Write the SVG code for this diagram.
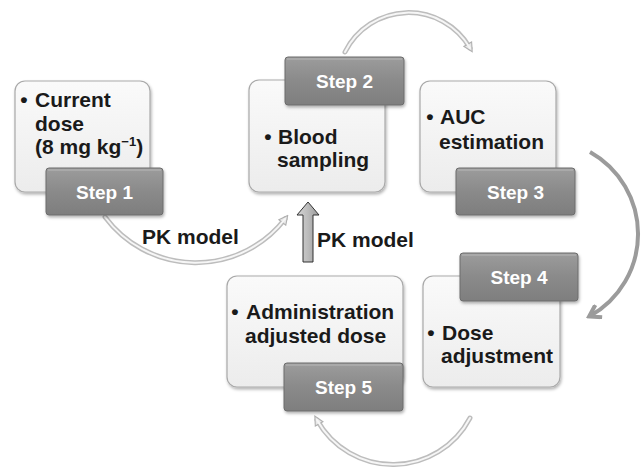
<svg xmlns="http://www.w3.org/2000/svg" width="641" height="469" viewBox="0 0 641 469">
<style>
.card{fill:url(#cardG);stroke:#a9a9a9;stroke-width:1.2}
.lab{fill:url(#labG);stroke:#6c6c6c;stroke-width:1}
.hl{fill:none;stroke:#b8b8b8;stroke-width:1.2}
.txt{font-family:"Liberation Sans",Arial,sans-serif;font-weight:bold;font-size:21px;fill:#1a1a1a}
.st{font-family:"Liberation Sans",Arial,sans-serif;font-weight:bold;font-size:19px;fill:#ffffff;text-anchor:middle}
.tubeO{fill:none;stroke:#bdbdbd;stroke-width:5;stroke-linecap:round}
.tubeI{fill:none;stroke:#f6f6f6;stroke-width:2;stroke-linecap:round}
</style>
<defs>
<linearGradient id="cardG" x1="0" y1="0" x2="0" y2="1">
<stop offset="0" stop-color="#fafafa"/>
<stop offset="1" stop-color="#ececec"/>
</linearGradient>
<linearGradient id="labG" x1="0" y1="0" x2="0" y2="1">
<stop offset="0" stop-color="#9c9c9c"/>
<stop offset="0.5" stop-color="#8a8a8a"/>
<stop offset="1" stop-color="#7e7e7e"/>
</linearGradient>
<linearGradient id="arrG" x1="0" y1="0" x2="1" y2="0">
<stop offset="0" stop-color="#d6d6d6"/>
<stop offset="0.5" stop-color="#bcbcbc"/>
<stop offset="1" stop-color="#9a9a9a"/>
</linearGradient>
<filter id="sh" x="-10%" y="-10%" width="125%" height="130%">
<feDropShadow dx="1" dy="2" stdDeviation="1.6" flood-color="#000" flood-opacity="0.3"/>
</filter>
<marker id="mLight" viewBox="0 0 10 10" refX="5" refY="5" markerWidth="11" markerHeight="11" markerUnits="userSpaceOnUse" orient="auto">
<path d="M1,1 L9,5 L1,9 Z" fill="#e8e8e8" stroke="#b0b0b0" stroke-width="1"/>
</marker>
<marker id="mDark" viewBox="0 0 16 16" refX="12" refY="8" markerWidth="16" markerHeight="16" markerUnits="userSpaceOnUse" orient="auto">
<path d="M2,1 L13,8 L2,15" fill="none" stroke="#9b9b9b" stroke-width="4"/>
</marker>
</defs>

<g id="connectors">
<path class="tubeO" d="M105,217 A113,113 0 0 0 285,219" marker-end="url(#mLight)"/>
<path class="tubeI" d="M105,217 A113,113 0 0 0 285,219"/>
<path class="tubeO" d="M345,52 A71,71 0 0 1 470,48" marker-end="url(#mLight)"/>
<path class="tubeI" d="M345,52 A71,71 0 0 1 470,48"/>
<path d="M590,152 A94,94 0 0 1 590,316" fill="none" stroke="#9b9b9b" stroke-width="4" marker-end="url(#mDark)"/>
<path class="tubeO" d="M470,418 A87,87 0 0 1 317,420" marker-end="url(#mLight)"/>
<path class="tubeI" d="M470,418 A87,87 0 0 1 317,420"/>
<path d="M308,202 L319,215 L313,215 L313,262 L303,262 L303,215 L297,215 Z" fill="url(#arrG)" stroke="#333" stroke-width="1"/>
<text class="txt" x="142" y="244">PK model</text>
<text class="txt" x="317" y="247">PK model</text>
</g>

<g id="step1">
<rect class="card" x="15" y="81" width="135" height="111" rx="10" filter="url(#sh)"/>
<text class="txt" x="24" y="107" text-anchor="middle">•</text>
<text class="txt" x="35" y="107">Current</text>
<text class="txt" x="35" y="131">dose</text>
<text class="txt" x="35" y="154">(8 mg kg<tspan dy="-8" font-size="13">−1</tspan><tspan dy="8">)</tspan></text>
<rect class="lab" x="46" y="168" width="117" height="47" rx="3" filter="url(#sh)"/>
<path class="hl" d="M48,170 L161,170"/>
<text class="st" x="104.5" y="199">Step 1</text>
</g>

<g id="step2">
<rect class="card" x="249" y="80" width="136" height="112" rx="10" filter="url(#sh)"/>
<rect class="lab" x="285" y="57" width="119" height="48" rx="3" filter="url(#sh)"/>
<path class="hl" d="M287,59 L402,59"/>
<text class="st" x="344.5" y="88">Step 2</text>
<text class="txt" x="268" y="144" text-anchor="middle">•</text>
<text class="txt" x="278" y="144">Blood</text>
<text class="txt" x="277" y="167">sampling</text>
</g>

<g id="step3">
<rect class="card" x="420" y="81" width="136" height="111" rx="10" filter="url(#sh)"/>
<text class="txt" x="430" y="124" text-anchor="middle">•</text>
<text class="txt" x="440" y="124">AUC</text>
<text class="txt" x="439" y="149">estimation</text>
<rect class="lab" x="456" y="168" width="119" height="47" rx="3" filter="url(#sh)"/>
<path class="hl" d="M458,170 L573,170"/>
<text class="st" x="515.5" y="199">Step 3</text>
</g>

<g id="step4">
<rect class="card" x="423" y="276" width="137" height="111" rx="10" filter="url(#sh)"/>
<rect class="lab" x="460" y="253" width="118" height="48" rx="3" filter="url(#sh)"/>
<path class="hl" d="M462,255 L576,255"/>
<text class="st" x="519" y="284">Step 4</text>
<text class="txt" x="431" y="340" text-anchor="middle">•</text>
<text class="txt" x="442" y="340">Dose</text>
<text class="txt" x="441" y="363">adjustment</text>
</g>

<g id="step5">
<rect class="card" x="227" y="276" width="176" height="111" rx="10" filter="url(#sh)"/>
<text class="txt" x="235" y="319" text-anchor="middle">•</text>
<text class="txt" x="246" y="319">Administration</text>
<text class="txt" x="245" y="343">adjusted dose</text>
<rect class="lab" x="284" y="363" width="119" height="48" rx="3" filter="url(#sh)"/>
<path class="hl" d="M286,365 L401,365"/>
<text class="st" x="343.5" y="394">Step 5</text>
</g>
</svg>
